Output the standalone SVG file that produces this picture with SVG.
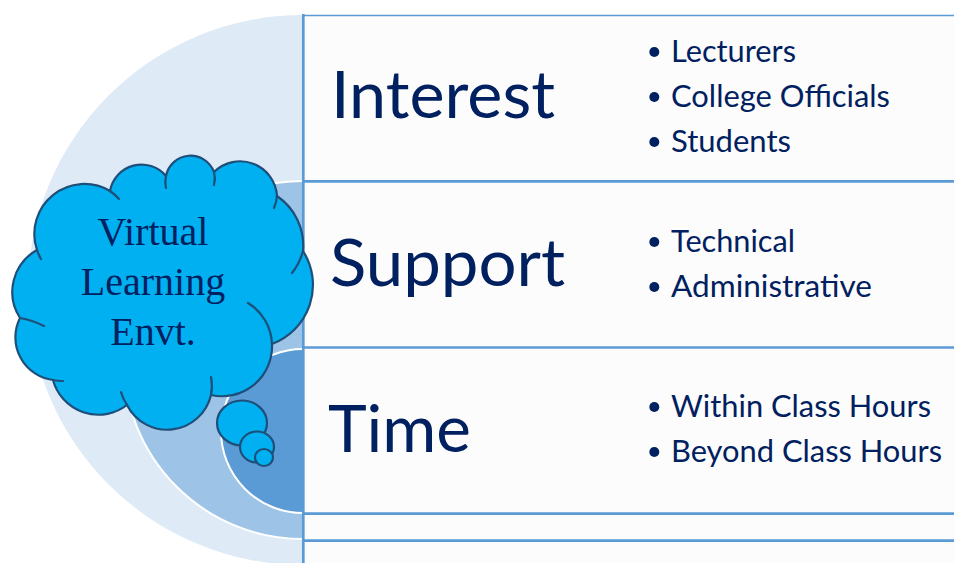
<svg xmlns="http://www.w3.org/2000/svg" width="954" height="563" viewBox="0 0 954 563">
<style>
.big{font-family:Lato,"Open Sans",sans-serif;font-size:66px;fill:#002060}
.item{font-family:Lato,"Open Sans",sans-serif;font-size:30px;fill:#002060}
.bul{fill:#002060}
.rule{stroke:#5b9bd5;stroke-width:2.7;fill:none}
.cloud{fill:#00b0f0;stroke:#1f4e79;stroke-width:2.2}
.tick{fill:none;stroke:#1f4e79;stroke-width:2.2;stroke-linecap:round}
.ctext{font-family:"Liberation Serif","Times New Roman",serif;font-size:40px;fill:#002060;text-anchor:middle}
</style>
<rect width="954" height="563" fill="#ffffff"/>
<g id="target">
<circle cx="303" cy="290" r="275" fill="#deebf7"/>
<circle cx="303" cy="360" r="179" fill="#9dc3e6" stroke="#ffffff" stroke-width="2"/>
<circle cx="303" cy="431" r="82" fill="#5b9bd5" stroke="#ffffff" stroke-width="2"/>
</g>
<rect x="303" y="15" width="651" height="548" fill="#fcfcfc"/>
<g id="connectors">
<line class="rule" x1="303.3" y1="14" x2="303.3" y2="563"/>
<line class="rule" x1="303" y1="15.5" x2="954" y2="15.5" style="stroke-width:1.6"/>
<line class="rule" x1="303" y1="181.3" x2="954" y2="181.3"/>
<line class="rule" x1="303" y1="347.5" x2="954" y2="347.5"/>
<line class="rule" x1="303" y1="513.7" x2="954" y2="513.7"/>
<line class="rule" x1="303" y1="540.7" x2="954" y2="540.7"/>
</g>
<g id="row-interest">
<text class="big" x="331" y="118" textLength="224" lengthAdjust="spacingAndGlyphs">Interest</text>
<circle class="bul" cx="654.3" cy="52" r="5"/>
<text class="item" x="671" y="62" textLength="125" lengthAdjust="spacingAndGlyphs">Lecturers</text>
<circle class="bul" cx="654.3" cy="97" r="5"/>
<text class="item" x="671" y="107" textLength="219" lengthAdjust="spacingAndGlyphs">College Officials</text>
<circle class="bul" cx="654.3" cy="142" r="5"/>
<text class="item" x="671" y="152" textLength="120" lengthAdjust="spacingAndGlyphs">Students</text>
</g>
<g id="row-support">
<text class="big" x="330" y="286" textLength="235" lengthAdjust="spacingAndGlyphs">Support</text>
<circle class="bul" cx="654.3" cy="242" r="5"/>
<text class="item" x="671" y="252" textLength="124" lengthAdjust="spacingAndGlyphs">Technical</text>
<circle class="bul" cx="654.3" cy="287" r="5"/>
<text class="item" x="671" y="297" textLength="201" lengthAdjust="spacingAndGlyphs">Administrative</text>
</g>
<g id="row-time">
<text class="big" x="328" y="452" textLength="143" lengthAdjust="spacingAndGlyphs">Time</text>
<circle class="bul" cx="654.3" cy="407" r="5"/>
<text class="item" x="671" y="417" textLength="260" lengthAdjust="spacingAndGlyphs">Within Class Hours</text>
<circle class="bul" cx="654.3" cy="452" r="5"/>
<text class="item" x="671" y="462" textLength="271" lengthAdjust="spacingAndGlyphs">Beyond Class Hours</text>
</g>
<g id="cloud">
<path class="cloud" d="M37,250 A50,50 0 0,1 110,191 A32,32 0 0,1 166,176 A25,25 0 0,1 214,172 A37,37 0 0,1 277,196 A60,60 0 0,1 303,251 A63,63 0 0,1 272,344 A50,50 0 0,1 211,395 A45,45 0 0,1 127,405 A47,47 0 0,1 53,380 A43,43 0 0,1 20,318 A48,48 0 0,1 37,250 Z"/>
<path class="tick" d="M110,191 A50,50 0 0,1 119,199"/>
<path class="tick" d="M166,188 A25,25 0 0,1 166,176"/>
<path class="tick" d="M214,172 A25,25 0 0,1 214,185"/>
<path class="tick" d="M277,196 A37,37 0 0,1 274,208"/>
<path class="tick" d="M303,251 A60,60 0 0,1 292,273"/>
<path class="tick" d="M248,303 A50,50 0 0,1 272,344"/>
<path class="tick" d="M211,377 A45,45 0 0,1 211,395"/>
<path class="tick" d="M127,405 A45,45 0 0,1 121,392"/>
<path class="tick" d="M63,381 A43,43 0 0,1 53,380"/>
<path class="tick" d="M20,318 Q32,320 44,326"/>
<path class="tick" d="M41,259 A50,50 0 0,1 37,250"/>
<ellipse class="cloud" cx="242" cy="423" rx="25" ry="22.5"/>
<ellipse class="cloud" cx="257" cy="447" rx="17" ry="15.5"/>
<ellipse class="cloud" cx="264" cy="457.5" rx="9" ry="8.5"/>
<text class="ctext" x="153" y="245">Virtual</text>
<text class="ctext" x="153" y="295">Learning</text>
<text class="ctext" x="153" y="345">Envt.</text>
</g>
</svg>
